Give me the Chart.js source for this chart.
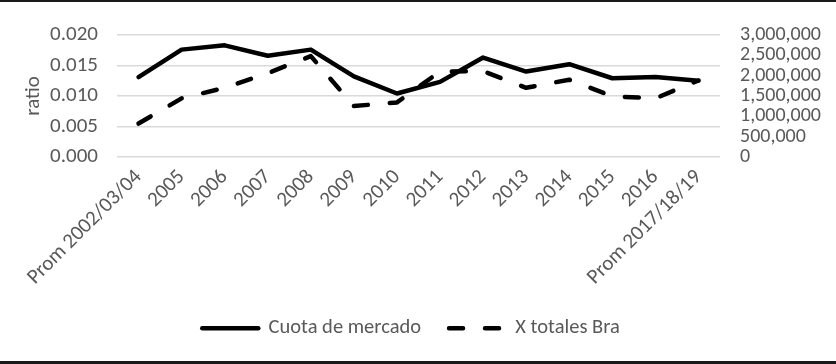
<!DOCTYPE html>
<html>
<head>
<meta charset="utf-8">
<script src="https://cdn.jsdelivr.net/npm/chart.js@4"></script>
<style>
  html, body { margin: 0; padding: 0; background: #fff; }
  #wrap {
    width: 836px;
    height: 364px;
    box-sizing: border-box;
    border-top: 2px solid #1a1a1a;
    border-bottom: 3px solid #1a1a1a;
    overflow: hidden;
  }
  canvas { display: block; }
</style>
</head>
<body>
<div id="wrap"><canvas id="myChart" width="836" height="359"></canvas></div>
<script>
const categories = [
  "Prom 2002/03/04", "2005", "2006", "2007", "2008", "2009", "2010",
  "2011", "2012", "2013", "2014", "2015", "2016", "Prom 2017/18/19"
];
const cuotaMercado = [
  0.0131, 0.0176, 0.0183, 0.0166, 0.0176, 0.0132, 0.0104,
  0.0123, 0.0163, 0.0140, 0.0152, 0.0129, 0.0131, 0.0125
];
const xTotalesBra = [
  820000, 1440000, 1700000, 2060000, 2480000, 1250000, 1340000,
  2100000, 2110000, 1700000, 1900000, 1490000, 1440000, 1880000
];
const ratioTicks = [0, 0.005, 0.01, 0.015, 0.02];
const totalTicks = [0, 500000, 1000000, 1500000, 2000000, 2500000, 3000000];

const fontFamily = "Carlito, Lato, sans-serif";
const textColor = "#595959";

const ctx = document.getElementById("myChart");

new Chart(ctx, {
  type: "line",
  data: {
    labels: categories,
    datasets: [
      {
        label: "Cuota de mercado",
        data: cuotaMercado,
        yAxisID: "y",
        borderColor: "#000",
        backgroundColor: "#000",
        borderWidth: 4.5,
        borderJoinStyle: "round",
        borderCapStyle: "round",
        pointRadius: 0,
        tension: 0,
      },
      {
        label: "X totales Bra",
        data: xTotalesBra,
        yAxisID: "y1",
        borderColor: "#000",
        backgroundColor: "#000",
        borderWidth: 4.5,
        borderDash: [14, 22],
        borderJoinStyle: "round",
        borderCapStyle: "round",
        pointRadius: 0,
        tension: 0,
      },
    ],
  },
  options: {
    responsive: false,
    animation: false,
    layout: {
      padding: { top: 33, right: 14, left: 0, bottom: 12.5 },
    },
    plugins: {
      legend: {
        position: "bottom",
        labels: {
          usePointStyle: true,
          pointStyle: "line",
          pointStyleWidth: 56,
          padding: 28,
          color: textColor,
          font: { family: fontFamily, size: 20.5 },
          // point-style legend items lose the dataset dash, so copy it back
          generateLabels: (chart) => {
            const items = Chart.defaults.plugins.legend.labels.generateLabels(chart);
            items.forEach((item) => {
              const ds = chart.data.datasets[item.datasetIndex];
              item.lineDash = ds.borderDash || [];
              item.lineWidth = 4.5;
              item.lineCap = "round";
              item.strokeStyle = "#000";
            });
            return items;
          },
        },
      },
      tooltip: { enabled: false },
    },
    scales: {
      x: {
        offset: true,
        grid: { display: false },
        border: { display: false },
        afterFit: (scale) => {
          scale.paddingLeft = 0;
          scale.paddingRight = 0;
        },
        ticks: {
          minRotation: 45,
          maxRotation: 45,
          autoSkip: false,
          padding: 1.5,
          color: textColor,
          font: { family: fontFamily, size: 21, lineHeight: 1 },
        },
      },
      y: {
        position: "left",
        min: ratioTicks[0],
        max: ratioTicks[ratioTicks.length - 1],
        afterBuildTicks: (axis) => {
          axis.ticks = ratioTicks.map((v) => ({ value: v }));
        },
        afterFit: (scale) => {
          scale.width = 117;
        },
        grid: { color: "#d9d9d9", lineWidth: 1.5, drawTicks: false },
        border: { display: false },
        title: {
          display: true,
          text: "ratio",
          color: textColor,
          font: { family: fontFamily, size: 21 },
          padding: { top: 21, bottom: 5 },
        },
        ticks: {
          autoSkip: false,
          padding: 19,
          color: textColor,
          font: { family: fontFamily, size: 21 },
          callback: (v) => Number(v).toFixed(3),
        },
      },
      y1: {
        position: "right",
        min: totalTicks[0],
        max: totalTicks[totalTicks.length - 1],
        afterBuildTicks: (axis) => {
          axis.ticks = totalTicks.map((v) => ({ value: v }));
        },
        afterFit: (scale) => {
          scale.width = 102;
        },
        grid: { drawOnChartArea: false, drawTicks: false },
        border: { display: false },
        ticks: {
          autoSkip: false,
          padding: 20,
          color: textColor,
          font: { family: fontFamily, size: 20 },
          callback: (v) => Number(v).toLocaleString("en-US"),
        },
      },
    },
  },
});
</script>
</body>
</html>
